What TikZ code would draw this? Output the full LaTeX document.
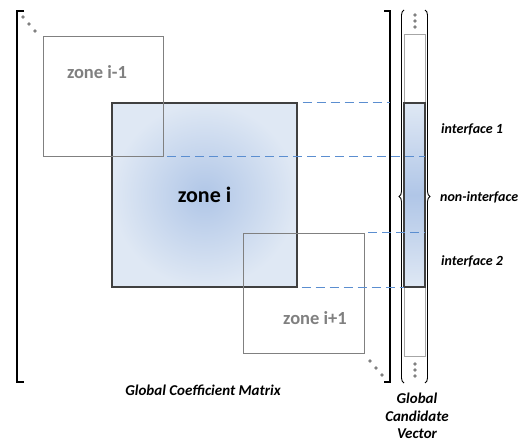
\documentclass[tikz,border=0pt]{standalone}
\usepackage{fontspec}
\setmainfont{Carlito}
\usetikzlibrary{positioning,decorations.pathreplacing}
\definecolor{zoneedge}{HTML}{404040}
\definecolor{zonegray}{HTML}{808080}
\definecolor{zoneblue}{HTML}{B0C6E7}
\definecolor{zonelight}{HTML}{DFE8F4}
\definecolor{guideblue}{HTML}{5B8ED0}
\definecolor{vecgray}{HTML}{A6A6A6}
\tikzset{
  zonebox/.style={draw=zonegray, line width=0.9pt, minimum size=120pt, inner sep=0pt},
  zonelabel/.style={font=\bfseries\fontsize{18.5}{22}\selectfont, text=zonegray},
  guide/.style={draw=guideblue, line width=1pt, dash pattern=on 9pt off 5pt},
  sidelabel/.style={font=\bfseries\itshape\fontsize{15}{17.5}\selectfont},
  partlabel/.style={font=\bfseries\itshape\fontsize{14}{17}\selectfont, anchor=west, inner sep=1pt},
  dotmark/.style={circle, fill=zonegray, inner sep=0pt, minimum size=3.6pt},
  vbrace/.style={line width=0.9pt, decorate, decoration={brace, amplitude=5pt}}
}

\begin{document}
\begin{tikzpicture}[x=1pt, y=-1pt]
  \useasboundingbox (0,0) rectangle (525,441);
  % matrix brackets
  \draw[line width=1.4pt] (24,11) -- (17,11) -- (17,382) -- (24,382);
  \draw[line width=1.4pt] (384,11) -- (390,11) -- (390,382) -- (384,382);
  \coordinate (mright) at (390,195);
  % zones
  \node[draw=zoneedge, line width=1.1pt, minimum width=185pt, minimum height=184pt,
        inner color=zoneblue, outer color=zonelight,
        font=\bfseries\fontsize{22}{25}\selectfont] (zcur) at (204.5,195) {zone i};
  \node[zonebox] (zprev) at (103,96) {};
  \node[zonelabel] (lprev) at (97,72) {zone i-1};
  \node[zonebox, minimum width=121pt] (znext) at (303.5,293) {};
  \node[zonelabel] (lnext) at (315,318) {zone i+1};
  % candidate vector
  \node[draw=vecgray, line width=0.9pt, minimum width=21pt, minimum height=322pt,
        inner sep=0pt] (vec) at (414.5,195) {};
  \node[draw=zoneedge, line width=1.1pt, minimum width=21pt, minimum height=184pt,
        inner sep=0pt, top color=zonelight, bottom color=zonelight,
        middle color=zoneblue] (vblue) at (vec.center) {};
  \draw[vbrace] (404,383) -- (404,10);
  \draw[vbrace] (425,10) -- (425,383);
  % interface guides
  \draw[guide] ([xshift=5pt]zcur.north east) -- (zcur.north east -| mright);
  \draw[guide] ([xshift=4pt]zprev.south east) -- (zprev.south east -| vec.east);
  \draw[guide] ([xshift=4pt]znext.north east) -- (znext.north east -| vec.east);
  \draw[guide] ([xshift=4pt]zcur.south east) -- (zcur.south east -| vec.west);
  % dots
  \foreach \px/\py [count=\k] in {23/17,29/24,35/31,370/361,376/368,382/375,
                                  415/15,415/21,415/27,415/364,415/370,415/376}{
    \node[dotmark] (dot\k) at (\px,\py) {};
  }
  % labels
  \node[partlabel] (lif1) at (440,129) {interface 1};
  \node[partlabel] (lnon) at (439,197) {non-interface};
  \node[partlabel] (lif2) at (440,261) {interface 2};
  \node[sidelabel] (lmat) at (203,390) {Global Coefficient Matrix};
  \node[sidelabel, align=center] (lvec) at (417,416) {Global\\Candidate\\Vector};
\end{tikzpicture}
\end{document}
